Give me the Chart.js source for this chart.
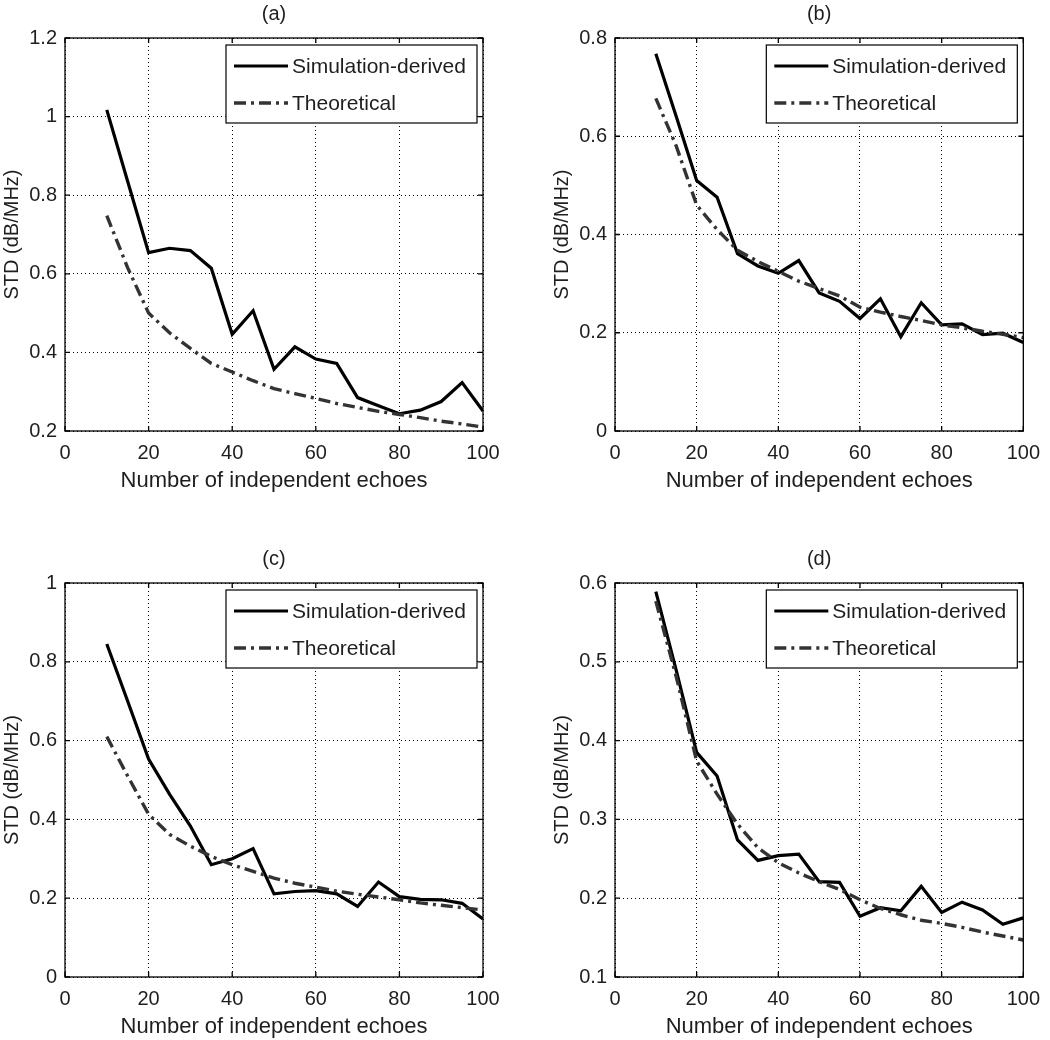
<!DOCTYPE html>
<html>
<head>
<meta charset="utf-8">
<script src="https://cdn.jsdelivr.net/npm/chart.js@4.4.0/dist/chart.umd.min.js"></script>
<style>
  body { margin: 0; background: #fff; width: 1050px; height: 1040px; position: relative; overflow: hidden; }
  canvas { position: absolute; }
</style>
</head>
<body>
<canvas id="chartA" width="525" height="520" style="left:0;top:0"></canvas>
<canvas id="chartB" width="525" height="520" style="left:525px;top:0"></canvas>
<canvas id="chartC" width="525" height="520" style="left:0;top:520px"></canvas>
<canvas id="chartD" width="525" height="520" style="left:525px;top:520px"></canvas>
<script>
// Data
const echoes = [10, 15, 20, 25, 30, 35, 40, 45, 50, 55, 60, 65, 70, 75, 80, 85, 90, 95, 100];

const simA  = [1.017, 0.835, 0.654, 0.665, 0.659, 0.614, 0.446, 0.506, 0.357, 0.414, 0.383, 0.372, 0.285, 0.264, 0.244, 0.253, 0.275, 0.323, 0.251];
const theoA = [0.748, 0.615, 0.500, 0.450, 0.410, 0.372, 0.350, 0.328, 0.308, 0.295, 0.283, 0.270, 0.260, 0.250, 0.242, 0.234, 0.225, 0.218, 0.210];

const simB  = [0.768, 0.640, 0.510, 0.476, 0.361, 0.336, 0.321, 0.347, 0.281, 0.264, 0.229, 0.269, 0.192, 0.261, 0.216, 0.218, 0.196, 0.199, 0.180];
const theoB = [0.677, 0.580, 0.460, 0.410, 0.368, 0.345, 0.325, 0.305, 0.290, 0.275, 0.252, 0.242, 0.233, 0.225, 0.216, 0.210, 0.203, 0.197, 0.190];

const simC  = [0.845, 0.700, 0.553, 0.464, 0.383, 0.285, 0.300, 0.326, 0.211, 0.217, 0.219, 0.211, 0.179, 0.241, 0.204, 0.197, 0.196, 0.187, 0.147];
const theoC = [0.610, 0.510, 0.413, 0.362, 0.332, 0.306, 0.285, 0.268, 0.251, 0.238, 0.228, 0.218, 0.210, 0.203, 0.196, 0.188, 0.182, 0.176, 0.170];

const simD  = [0.589, 0.489, 0.385, 0.355, 0.274, 0.248, 0.254, 0.256, 0.221, 0.220, 0.177, 0.188, 0.184, 0.215, 0.182, 0.195, 0.185, 0.167, 0.175];
const theoD = [0.577, 0.481, 0.374, 0.332, 0.294, 0.264, 0.245, 0.232, 0.221, 0.211, 0.198, 0.187, 0.179, 0.172, 0.168, 0.163, 0.157, 0.152, 0.147];

const xTicks  = [0, 20, 40, 60, 80, 100];
const yTicksA = [0.2, 0.4, 0.6, 0.8, 1, 1.2];
const yTicksB = [0, 0.2, 0.4, 0.6, 0.8];
const yTicksC = [0, 0.2, 0.4, 0.6, 0.8, 1];
const yTicksD = [0.1, 0.2, 0.3, 0.4, 0.5, 0.6];

const seriesNames = ['Simulation-derived', 'Theoretical'];
const xLabel = 'Number of independent echoes';
const yLabel = 'STD (dB/MHz)';

const FONT = '"Liberation Sans", Arial, sans-serif';
const TEXT = '#1e1e1e';

// frame, inward ticks, panel title and boxed legend, matlab style
const matlabFrame = {
    id: 'matlabFrame',
    afterDatasetsDraw(chart, args, opts) {
        const { ctx, chartArea: a, scales } = chart;
        ctx.save();

        // legend box
        const bw = 251, bh = 78;
        const bx = a.right - 6 - bw, by = a.top + 7;
        ctx.fillStyle = '#fff';
        ctx.fillRect(bx, by, bw, bh);
        ctx.strokeStyle = '#000';
        ctx.lineWidth = 1.2;
        ctx.strokeRect(bx, by, bw, bh);
        chart.data.datasets.forEach((ds, i) => {
            const ly = by + 21 + i * 37;
            ctx.beginPath();
            ctx.setLineDash(ds.borderDash || []);
            ctx.lineWidth = ds.borderWidth;
            ctx.strokeStyle = ds.borderColor;
            ctx.moveTo(bx + 8, ly);
            ctx.lineTo(bx + 62, ly);
            ctx.stroke();
            ctx.setLineDash([]);
            ctx.fillStyle = TEXT;
            ctx.font = '21px ' + FONT;
            ctx.textAlign = 'left';
            ctx.textBaseline = 'middle';
            ctx.fillText(ds.label, bx + 66, ly + 1);
        });

        // axes box and inward ticks
        ctx.strokeStyle = '#000';
        ctx.lineWidth = 1.3;
        ctx.strokeRect(a.left, a.top, a.width, a.height);
        ctx.beginPath();
        scales.x.ticks.forEach(t => {
            const px = scales.x.getPixelForValue(t.value);
            ctx.moveTo(px, a.bottom); ctx.lineTo(px, a.bottom - 5);
            ctx.moveTo(px, a.top); ctx.lineTo(px, a.top + 5);
        });
        scales.y.ticks.forEach(t => {
            const py = scales.y.getPixelForValue(t.value);
            ctx.moveTo(a.left, py); ctx.lineTo(a.left + 5, py);
            ctx.moveTo(a.right, py); ctx.lineTo(a.right - 5, py);
        });
        ctx.stroke();

        // panel title
        ctx.fillStyle = TEXT;
        ctx.font = '20px ' + FONT;
        ctx.textAlign = 'center';
        ctx.textBaseline = 'middle';
        ctx.fillText(opts.title, (a.left + a.right) / 2, a.top - 24);
        ctx.restore();
    }
};

function makePanel(id, title, sim, theo, yTicks, pad) {
    const ctx = document.getElementById(id).getContext('2d');
    return new Chart(ctx, {
        type: 'line',
        data: {
            datasets: [{
                label: seriesNames[0],
                data: echoes.map((x, i) => ({ x: x, y: sim[i] })),
                borderColor: '#000',
                borderWidth: 3.2,
                pointRadius: 0,
                tension: 0,
                order: 1
            }, {
                label: seriesNames[1],
                data: echoes.map((x, i) => ({ x: x, y: theo[i] })),
                borderColor: '#333',
                borderWidth: 3.4,
                borderDash: [12, 5, 3, 5],
                pointRadius: 0,
                tension: 0,
                order: 0
            }]
        },
        options: {
            responsive: false,
            animation: false,
            devicePixelRatio: 1,
            layout: {
                padding: { top: pad.top, left: pad.left, right: pad.right, bottom: 0 }
            },
            scales: {
                x: {
                    type: 'linear',
                    min: xTicks[0],
                    max: xTicks[xTicks.length - 1],
                    afterBuildTicks: s => { s.ticks = xTicks.map(v => ({ value: v })); },
                    afterFit: s => { s.height = pad.xh; },
                    grid: { color: '#000', lineWidth: 1, drawTicks: false },
                    border: { display: false, dash: [1, 3] },
                    ticks: { color: TEXT, font: { family: FONT, size: 20 }, padding: 10, maxRotation: 0, callback: v => String(v) },
                    title: { display: true, text: xLabel, color: TEXT, font: { family: FONT, size: 22 }, padding: { top: 0, bottom: pad.xtb } }
                },
                y: {
                    type: 'linear',
                    min: yTicks[0],
                    max: yTicks[yTicks.length - 1],
                    afterBuildTicks: s => { s.ticks = yTicks.map(v => ({ value: v })); },
                    afterFit: s => { s.width = 65; },
                    grid: { color: '#000', lineWidth: 1, drawTicks: false },
                    border: { display: false, dash: [1, 3] },
                    ticks: { color: TEXT, font: { family: FONT, size: 20 }, padding: 8, callback: v => String(v) },
                    title: { display: true, text: yLabel, color: TEXT, font: { family: FONT, size: 20 }, padding: 0 }
                }
            },
            plugins: {
                legend: { display: false },
                tooltip: { enabled: false },
                matlabFrame: { title: title }
            }
        },
        plugins: [matlabFrame]
    });
}

makePanel('chartA', '(a)', simA, theoA, yTicksA, { top: 38, left: 0, right: 42, xh: 89, xtb: 26 });
makePanel('chartB', '(b)', simB, theoB, yTicksB, { top: 38, left: 25, right: 17, xh: 89, xtb: 26 });
makePanel('chartC', '(c)', simC, theoC, yTicksC, { top: 63, left: 0, right: 42, xh: 63, xtb: 0 });
makePanel('chartD', '(d)', simD, theoD, yTicksD, { top: 63, left: 25, right: 17, xh: 63, xtb: 0 });
</script>
</body>
</html>
